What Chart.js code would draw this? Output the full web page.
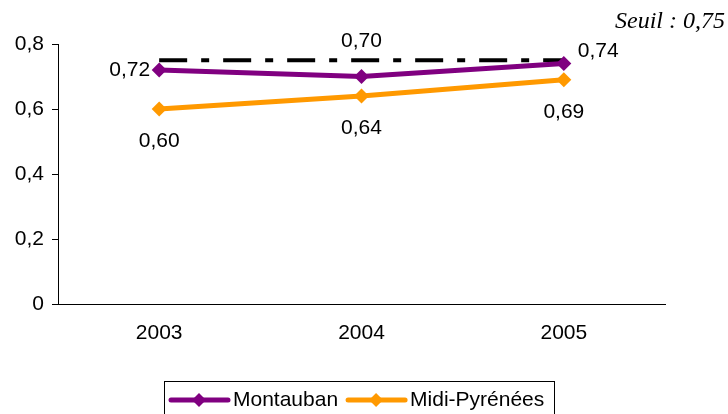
<!DOCTYPE html>
<html>
<head>
<meta charset="utf-8">
<script src="https://cdn.jsdelivr.net/npm/chart.js@4/dist/chart.umd.min.js"></script>
<style>
  html, body { margin: 0; padding: 0; background: #fff; }
  #wrap { width: 728px; height: 414px; position: relative; }
</style>
</head>
<body>
<div id="wrap"><canvas id="chart"></canvas></div>
<script>
const years = ['2003', '2004', '2005'];
const montauban = [0.72, 0.70, 0.74];
const midiPyrenees = [0.60, 0.64, 0.69];
const seuil = [0.75, 0.75, 0.75];
const seuilText = 'Seuil : 0,75';

const font = "'Liberation Sans', Arial, sans-serif";

function fmt(v) {
    return v.toFixed(2).replace('.', ',');
}

// where each value label sits relative to its point
const labelPlace = {
    0: [{ dx: -9, dy: 0, align: 'right' }, { dx: 0, dy: -35, align: 'center' }, { dx: 14, dy: -12, align: 'left' }],
    1: [{ dx: 0, dy: 32, align: 'center' }, { dx: 0, dy: 32, align: 'center' }, { dx: 0, dy: 32, align: 'center' }]
};

const extras = {
    id: 'extras',
    afterDatasetsDraw(chart) {
        const ctx = chart.ctx;
        ctx.save();
        // value labels
        ctx.font = '21px ' + font;
        ctx.fillStyle = '#000';
        ctx.textBaseline = 'middle';
        Object.keys(labelPlace).forEach(i => {
            const meta = chart.getDatasetMeta(i);
            const ds = chart.data.datasets[i];
            meta.data.forEach((pt, j) => {
                const p = labelPlace[i][j];
                ctx.textAlign = p.align;
                ctx.fillText(fmt(ds.data[j]), pt.x + p.dx, pt.y + p.dy);
            });
        });

        // threshold note
        ctx.font = 'italic 24px "Liberation Serif", "Times New Roman", serif';
        ctx.textAlign = 'right';
        ctx.textBaseline = 'alphabetic';
        ctx.fillText(seuilText, 725, 28);

        // legend
        const lx = 164, ly = 381, lw = 390;
        ctx.strokeStyle = '#000';
        ctx.lineWidth = 1;
        ctx.strokeRect(lx + 0.5, ly + 0.5, lw, 60);
        ctx.font = '21px ' + font;
        ctx.textAlign = 'left';
        ctx.textBaseline = 'middle';
        let x = lx + 7;
        const y = 400;
        chart.data.datasets.forEach(ds => {
            if (ds.noLegend) return;
            ctx.strokeStyle = ds.borderColor;
            ctx.lineWidth = 5;
            ctx.lineCap = 'round';
            ctx.beginPath();
            ctx.moveTo(x, y);
            ctx.lineTo(x + 57, y);
            ctx.stroke();
            ctx.fillStyle = ds.borderColor;
            ctx.beginPath();
            ctx.moveTo(x + 28, y - 7);
            ctx.lineTo(x + 35, y);
            ctx.lineTo(x + 28, y + 7);
            ctx.lineTo(x + 21, y);
            ctx.closePath();
            ctx.fill();
            ctx.fillStyle = '#000';
            ctx.fillText(ds.label, x + 62, y);
            x += 62 + ctx.measureText(ds.label).width + 10;
        });
        ctx.restore();
    }
};

new Chart(document.querySelector('#chart').getContext('2d'), {
    type: 'line',
    data: {
        labels: years,
        datasets: [
            {
                label: 'Montauban',
                data: montauban,
                borderColor: '#800080',
                backgroundColor: '#800080',
                borderWidth: 5,
                pointStyle: 'rectRot',
                pointRadius: 7.5,
                pointBorderWidth: 0,
                tension: 0
            },
            {
                label: 'Midi-Pyrénées',
                data: midiPyrenees,
                borderColor: '#FF9900',
                backgroundColor: '#FF9900',
                borderWidth: 5,
                pointStyle: 'rectRot',
                pointRadius: 7.5,
                pointBorderWidth: 0,
                tension: 0
            },
            {
                label: 'Seuil',
                data: seuil,
                noLegend: true,
                borderColor: '#000',
                borderWidth: 4,
                borderDash: [28, 14, 8, 14],
                pointRadius: 0,
                order: 5
            }
        ]
    },
    options: {
        responsive: true,
        maintainAspectRatio: false,
        animation: false,
        layout: { padding: { top: 44, right: 63, left: 0, bottom: 0 } },
        plugins: {
            legend: { display: false },
            tooltip: { enabled: false }
        },
        scales: {
            x: {
                offset: true,
                grid: { display: false, drawTicks: false },
                border: { display: true, color: '#000', width: 1 },
                ticks: { color: '#000', font: { family: font, size: 21 }, padding: 17 },
                afterFit(scale) { scale.height = 110; }
            },
            y: {
                min: 0,
                max: 0.8,
                grid: { drawOnChartArea: false, drawTicks: true, tickLength: 6, color: '#000' },
                border: { display: true, color: '#000', width: 1 },
                ticks: {
                    stepSize: 0.2,
                    color: '#000',
                    padding: 8,
                    font: { family: font, size: 21 },
                    callback: v => v === 0 ? '0' : v.toFixed(1).replace('.', ',')
                },
                afterFit(scale) { scale.width = 58; }
            }
        }
    },
    plugins: [extras]
});
</script>
</body>
</html>
